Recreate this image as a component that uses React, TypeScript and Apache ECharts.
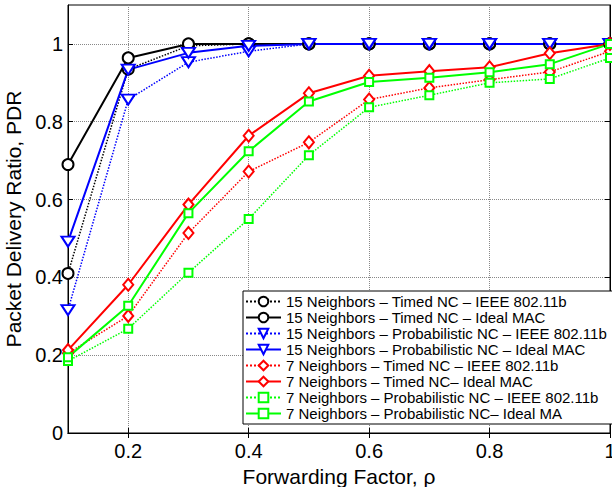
import React, { useEffect, useRef } from "react";
import * as echarts from "echarts";

const xValues = [0.1, 0.2, 0.3, 0.4, 0.5, 0.6, 0.7, 0.8, 0.9, 1.0];
const xTickValues = [0.2, 0.4, 0.6, 0.8, 1.0];
const yTickValues = [0, 0.2, 0.4, 0.6, 0.8, 1.0];

const n15TimedIEEE = [0.41, 0.935, 0.995, 1.0, 1.0, 1.0, 1.0, 1.0, 1.0, 1.0];
const n15TimedIdeal = [0.69, 0.964, 1.0, 1.0, 1.0, 1.0, 1.0, 1.0, 1.0, 1.0];
const n15ProbIEEE = [0.316, 0.857, 0.953, 0.981, 1.0, 1.0, 1.0, 1.0, 1.0, 1.0];
const n15ProbIdeal = [0.492, 0.934, 0.977, 0.995, 1.0, 1.0, 1.0, 1.0, 1.0, 1.0];
const n7TimedIEEE = [0.205, 0.301, 0.514, 0.672, 0.747, 0.857, 0.887, 0.908, 0.928, 0.981];
const n7TimedIdeal = [0.213, 0.381, 0.587, 0.764, 0.873, 0.918, 0.93, 0.94, 0.976, 1.0];
const n7ProbIEEE = [0.185, 0.268, 0.412, 0.55, 0.714, 0.837, 0.868, 0.9, 0.91, 0.964];
const n7ProbIdeal = [0.195, 0.327, 0.565, 0.724, 0.852, 0.902, 0.913, 0.927, 0.948, 1.0];

const seriesNames = [
  "15 Neighbors – Timed NC – IEEE 802.11b",
  "15 Neighbors – Timed NC – Ideal MAC",
  "15 Neighbors – Probabilistic NC – IEEE 802.11b",
  "15 Neighbors – Probabilistic NC – Ideal MAC",
  "7 Neighbors – Timed NC – IEEE 802.11b",
  "7 Neighbors – Timed NC– Ideal MAC",
  "7 Neighbors – Probabilistic NC – IEEE 802.11b",
  "7 Neighbors – Probabilistic NC– Ideal MA",
];

const FONT = "Liberation Sans, Arial, Helvetica, sans-serif";

export default function App() {
  const ref = useRef<HTMLDivElement>(null);
  useEffect(() => {
    if (!ref.current) return;
    const chart = echarts.init(ref.current, null, { renderer: "svg" });

    const mk = (
      name: string,
      vals: number[],
      color: string,
      dotted: boolean,
      symbol: string,
      size: any,
      rotate = 0
    ) => ({
      name,
      type: "line",
      data: xValues.map((x, i) => [x, vals[i]]),
      symbol,
      symbolSize: size,
      symbolRotate: rotate,
      showAllSymbol: true,
      lineStyle: { color, width: dotted ? 1.5 : 2, type: dotted ? "dotted" : "solid" },
      itemStyle: { color: "#fff", borderColor: color, borderWidth: 2 },
      emphasis: { disabled: true },
    });

    const series = [
      mk(seriesNames[0], n15TimedIEEE, "#000000", true, "circle", 11),
      mk(seriesNames[1], n15TimedIdeal, "#000000", false, "circle", 11),
      mk(seriesNames[2], n15ProbIEEE, "#0000ff", true, "triangle", [13, 10], 180),
      mk(seriesNames[3], n15ProbIdeal, "#0000ff", false, "triangle", [13, 10], 180),
      mk(seriesNames[4], n7TimedIEEE, "#ff0000", true, "diamond", [10, 12]),
      mk(seriesNames[5], n7TimedIdeal, "#ff0000", false, "diamond", [10, 12]),
      mk(seriesNames[6], n7ProbIEEE, "#00ff00", true, "rect", 8),
      mk(seriesNames[7], n7ProbIdeal, "#00ff00", false, "rect", 8),
    ];

    const gridLine = { show: true, lineStyle: { color: "#888", type: "dotted", width: 1 } };

    chart.setOption({
      animation: false,
      backgroundColor: "#fff",
      grid: {
        left: 68,
        right: 2,
        top: 5,
        bottom: 54,
        show: true,
        borderColor: "#000",
        borderWidth: 1,
        containLabel: false,
        outerBoundsMode: "none",
      },
      legend: {
        orient: "vertical",
        left: 243,
        top: 291,
        data: seriesNames,
        itemWidth: 35,
        itemHeight: 12,
        itemGap: 1,
        padding: [3, 7, 3, 2],
        borderColor: "#000",
        borderWidth: 1,
        backgroundColor: "#fff",
        textStyle: { fontFamily: FONT, fontSize: 15, color: "#000" },
        selectedMode: false,
      },
      xAxis: [
        {
          type: "value",
          min: 0.1,
          max: 1,
          interval: 0.1,
          name: "Forwarding Factor, ρ",
          nameLocation: "middle",
          nameGap: 30,
          nameTextStyle: { fontFamily: FONT, fontSize: 21, color: "#000" },
          axisLine: { show: true, lineStyle: { color: "#000", width: 1 } },
          axisTick: { show: true, inside: true, length: 5, lineStyle: { color: "#000" }, customValues: xTickValues },
          axisLabel: { fontFamily: FONT, fontSize: 20, color: "#000", margin: 8, customValues: xTickValues, hideOverlap: false },
          splitLine: gridLine,
        },
        {
          type: "value",
          position: "top",
          min: 0.1,
          max: 1,
          interval: 0.1,
          axisLine: { show: true, lineStyle: { color: "#000", width: 1 } },
          axisTick: { show: true, inside: true, length: 5, lineStyle: { color: "#000" }, customValues: xTickValues },
          axisLabel: { show: false },
          splitLine: { show: false },
        },
      ],
      yAxis: [
        {
          type: "value",
          min: 0,
          max: 1.1,
          interval: 0.2,
          name: "Packet Delivery Ratio, PDR",
          nameLocation: "middle",
          nameGap: 42,
          nameTextStyle: { fontFamily: FONT, fontSize: 21, color: "#000" },
          axisLine: { show: true, lineStyle: { color: "#000", width: 1 } },
          axisTick: { show: true, inside: true, length: 5, lineStyle: { color: "#000" }, customValues: yTickValues },
          axisLabel: {
            fontFamily: FONT,
            fontSize: 20,
            color: "#000",
            margin: 5,
            customValues: yTickValues,
            formatter: (v: number) => (v > 1.05 ? "" : String(Math.round(v * 10) / 10)),
          },
          splitLine: gridLine,
        },
        {
          type: "value",
          position: "right",
          min: 0,
          max: 1.1,
          interval: 0.2,
          axisLine: { show: true, lineStyle: { color: "#000", width: 1 } },
          axisTick: { show: true, inside: true, length: 5, lineStyle: { color: "#000" }, customValues: yTickValues },
          axisLabel: { show: false },
          splitLine: { show: false },
        },
      ],
      series,
    });
    return () => chart.dispose();
  }, []);
  return (
    <div
      ref={ref}
      style={{ position: "fixed", left: 0, top: 0, width: 612, height: 487, background: "#fff" }}
    />
  );
}
